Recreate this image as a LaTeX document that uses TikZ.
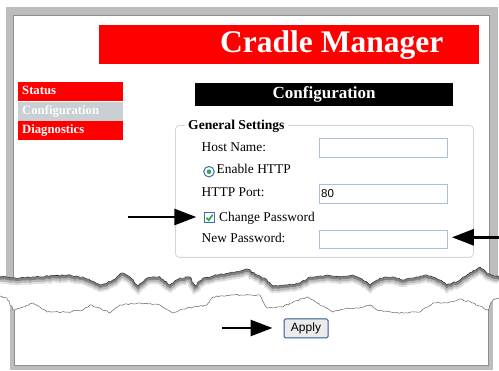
\documentclass[tikz,border=0pt]{standalone}
\usepackage{fontspec}
\setmainfont{Liberation Serif}
\setsansfont{Liberation Sans}
\usepackage{xcolor}
\usetikzlibrary{arrows.meta, calc, decorations.pathmorphing}

\definecolor{webred}{HTML}{FF0000}
\definecolor{framegray}{HTML}{BDBDBD}
\definecolor{frameedge}{HTML}{8E8E8E}
\definecolor{menugray}{HTML}{C8D0D4}
\definecolor{fieldblue}{HTML}{A9BFD8}
\definecolor{groupgray}{HTML}{D6D6CE}
\definecolor{ctrlblue}{HTML}{3A70B4}
\definecolor{tickgreen}{HTML}{2FA84A}

\tikzset{
  menuitem/.style={fill=webred, text=white, anchor=north west, inner xsep=4pt, inner ysep=0pt,
    text width=97pt, minimum height=19pt, text height=9pt, text depth=3pt,
    font=\fontsize{12.7}{14}\selectfont\bfseries},
  lbl/.style={anchor=base west, inner sep=0pt, font=\fontsize{13.4}{15}\selectfont},
  field/.style={draw=fieldblue, line width=0.9pt, fill=white, anchor=north west, inner sep=0pt,
    minimum width=128pt, minimum height=18.4pt},
  arrowline/.style={line width=2.8pt, -{Triangle[length=22pt,width=16pt]}},
  torn/.style={decorate, decoration={random steps, segment length=2pt, amplitude=0.7pt}}
}

% torn edges of the screenshot
\def\tearTop{(0,277) -- (7,277) -- (20,278) -- (33,277) -- (50,276) -- (67,275) -- (83,277) -- (92,281) -- (100,285) -- (107,283) -- (113,280) -- (122,273) -- (130,277) -- (138,286) -- (147,278) -- (160,277) -- (170,285) -- (180,278) -- (190,277) -- (195,286) -- (203,278) -- (217,275) -- (230,273) -- (240,271) -- (247,269) -- (257,275) -- (267,280) -- (273,286) -- (287,285) -- (300,283) -- (310,277) -- (327,275) -- (340,277) -- (353,275) -- (363,280) -- (370,285) -- (380,278) -- (393,277) -- (403,280) -- (413,278) -- (427,275) -- (440,280) -- (447,285) -- (460,280) -- (467,275) -- (480,267) -- (487,273) -- (499,277)}
\def\tearBot{(0,296) -- (7,298) -- (13,310) -- (23,307) -- (33,303) -- (47,312) -- (67,312) -- (83,310) -- (90,305) -- (100,308) -- (110,313) -- (120,305) -- (140,303) -- (160,305) -- (173,313) -- (187,308) -- (207,305) -- (213,297) -- (233,295) -- (260,295) -- (267,308) -- (283,307) -- (293,302) -- (307,297) -- (320,305) -- (333,312) -- (347,308) -- (357,308) -- (370,305) -- (377,310) -- (400,313) -- (420,312) -- (433,303) -- (447,303) -- (460,299) -- (473,303) -- (488,310) -- (493,300) -- (499,298)}

\begin{document}
\begin{tikzpicture}[x=1pt, y=-1pt]
  \useasboundingbox (0,0) rectangle (499,371);

  % lower piece of the window
  \fill[framegray] (10,260) rectangle (493,370);
  \fill[white] (14,260) rectangle (488,365);
  \draw[frameedge, line width=0.8pt] (14,260) -- (14,365) -- (488,365) -- (488,260);
  \pgfmathsetseed{5}
  \fill[white, torn] \tearBot -- (499,250) -- (0,250) -- cycle;

  % shadow under the upper tear
  \pgfmathsetseed{3}
  \draw[black!12, line width=8pt, shift={(0,3)}, torn] \tearTop;
  \pgfmathsetseed{3}
  \draw[black!28, line width=5pt, shift={(0,2.5)}, torn] \tearTop;
  \pgfmathsetseed{3}
  \draw[black!50, line width=2.5pt, shift={(0,1.5)}, torn] \tearTop;

  % upper piece of the window
  \begin{scope}
    \pgfmathsetseed{3}
    \clip[torn] \tearTop -- (499,0) -- (0,0) -- cycle;
    \fill[framegray] (6,7) rectangle (498,300);
    \fill[white] (13,15) rectangle (489,300);
    \draw[frameedge, line width=0.8pt] (13,300) -- (13,15) -- (489,15) -- (489,300);
  \end{scope}
  \pgfmathsetseed{3}
  \draw[black!80, line width=0.6pt, torn] \tearTop;
  \pgfmathsetseed{5}
  \draw[black!60, line width=0.5pt, torn] \tearBot;

  % header
  \node[fill=webred, anchor=north west, inner sep=0pt, minimum width=380pt, minimum height=39pt] (titlebar) at (99,25) {};
  \node[anchor=base west, inner sep=0pt, text=white, font=\fontsize{31.5}{36}\selectfont\bfseries] (title) at (220,53) {Cradle Manager};

  % menu
  \node[menuitem] (status) at (18,82) {Status};
  \node[menuitem, fill=menugray, text=white!92!menugray, anchor=north] (config) at (status.south) {Configuration};
  \node[menuitem, anchor=north] (diag) at (config.south) {Diagnostics};

  \node[fill=black, text=white, anchor=north west, inner sep=0pt, minimum width=258pt, minimum height=23pt,
    text height=11.3pt, text depth=3.7pt, font=\fontsize{17}{20}\selectfont\bfseries] (pagebar) at (195,83) {Configuration};

  % settings group
  \node[draw=groupgray, line width=0.8pt, rounded corners=4pt, anchor=north west, inner sep=0pt,
    minimum width=298pt, minimum height=132pt] (group) at (175,125) {};
  \node[fill=white, anchor=base west, inner xsep=3pt, inner ysep=1pt, font=\fontsize{13.6}{15}\selectfont\bfseries] (grouplbl) at (185,129.5) {General Settings};

  \node[lbl] (hostlbl) at (201.5,152) {Host Name:};
  \node[field] (hostfield) at (319,138.3) {};

  \node[circle, draw=ctrlblue, line width=1pt, fill=white, minimum size=10.5pt, inner sep=0pt] (radio) at (209,171.7) {};
  \fill[tickgreen] (radio.center) circle (2.3pt);
  \node[lbl] (httplbl) at (216.5,174) {Enable HTTP};

  \node[lbl] (portlbl) at (201.5,197) {HTTP Port:};
  \node[field] (portfield) at (319,184.3) {};
  \node[anchor=base west, inner sep=0pt, font=\sffamily\fontsize{11.5}{13}\selectfont] (portval) at (321,198) {80};

  \node[draw=ctrlblue, line width=0.9pt, fill=white, minimum size=10.5pt, inner sep=0pt] (chk) at (209.5,217.7) {};
  \draw[tickgreen, line width=1.7pt] ($(chk.center)+(-3,0)$) -- ($(chk.center)+(-0.8,2.6)$) -- ($(chk.center)+(3.2,-3)$);
  \node[lbl] (pwlbl) at (219,221.7) {Change Password};

  \node[lbl] (newpwlbl) at (201.5,243) {New Password:};
  \node[field] (pwfield) at (319,230) {};

  % button
  \node[draw=ctrlblue!80!black, line width=1pt, fill=black!8, rounded corners=1.5pt, inner sep=0pt,
    minimum width=44pt, minimum height=19pt, font=\sffamily\fontsize{12}{14}\selectfont] (apply) at (306,328.5) {Apply};

  % call-out arrows
  \coordinate (arrowA) at (128,217);
  \coordinate (arrowB) at (499,237.3);
  \coordinate (arrowC) at (222,328);
  \draw[arrowline] (arrowA) -- ([xshift=-7.5pt]chk.west |- arrowA);
  \draw[arrowline] (arrowB) -- ([xshift=4pt]pwfield.east |- arrowB);
  \draw[arrowline] (arrowC) -- ([xshift=-11pt]apply.west |- arrowC);
\end{tikzpicture}
\end{document}
